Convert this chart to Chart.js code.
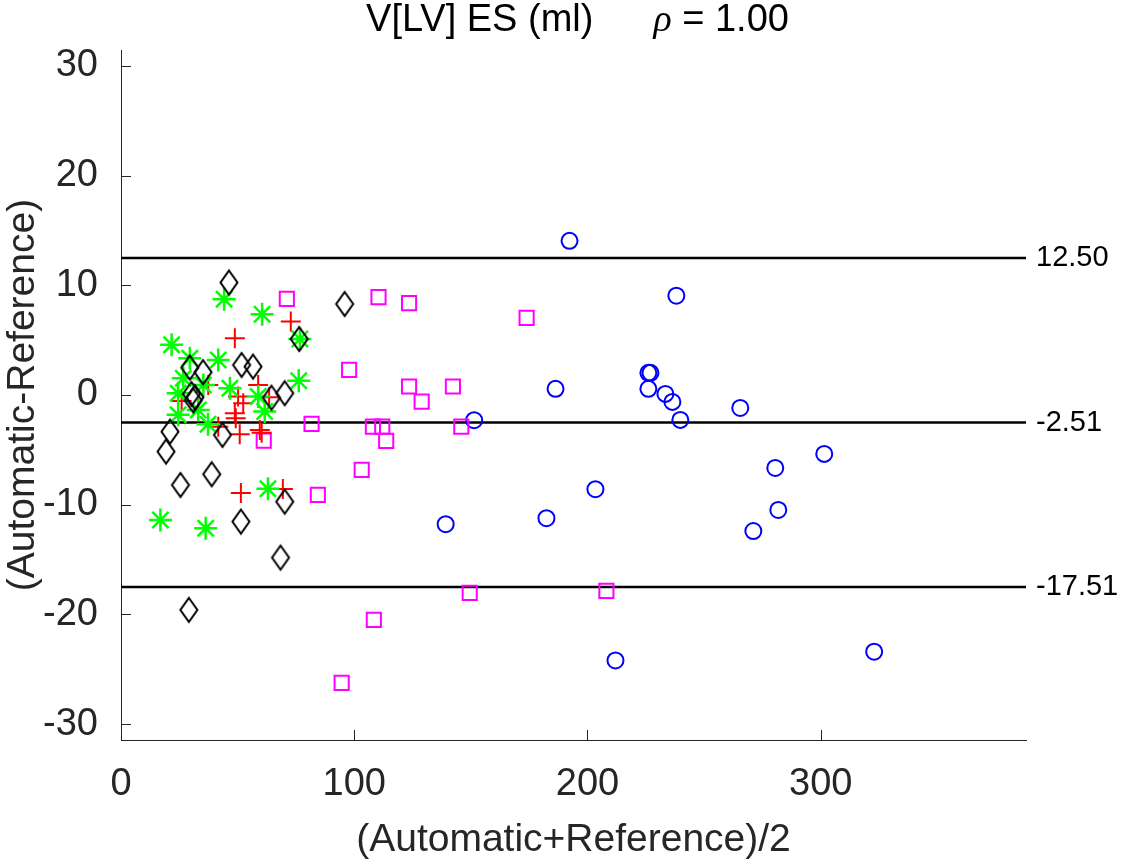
<!DOCTYPE html>
<html><head><meta charset="utf-8">
<script src="https://cdn.jsdelivr.net/npm/chart.js@4.4.1/dist/chart.umd.min.js"></script>
<style>html,body{margin:0;padding:0;background:#fff}#wrap{width:1123px;height:864px}</style>
</head><body><div id="wrap"><canvas id="c" width="1123" height="864"></canvas></div>
<script>
// ---- data ----
const xTicks = [0, 100, 200, 300];
const yTicks = [-30, -20, -10, 0, 10, 20, 30];
const xRange = [0, 388];
const yRange = [-31.45, 31.45];

const blueX = [192.3, 238.1, 186.3, 151.4, 226.1, 227.0, 226.1, 233.4, 236.4, 239.8, 265.5, 280.5, 301.5, 281.8, 271.1, 203.4, 182.4, 139.2, 212.0, 322.9];
const blueY = [14.05, 9.05, 0.56, -2.3, 2.02, 2.02, 0.56, 0.1, -0.63, -2.27, -1.18, -6.65, -5.37, -10.48, -12.4, -8.59, -11.23, -11.78, -24.2, -23.4];

const magentaX = [71.1, 110.4, 123.5, 173.9, 97.8, 123.5, 128.9, 142.3, 81.7, 108.0, 112.0, 113.7, 145.9, 61.2, 103.2, 84.4, 149.5, 208.1, 108.4, 94.6];
const magentaY = [8.76, 8.92, 8.37, 7.03, 2.29, 0.77, -0.6, 0.77, -2.63, -2.88, -2.88, -4.18, -2.88, -4.16, -6.83, -9.11, -18.04, -17.86, -20.5, -26.24];

const redX = [72.8, 48.8, 37.4, 58.8, 26.0, 50.2, 52.4, 63.5, 48.8, 49.2, 59.5, 60.3, 50.9, 41.7, 51.4, 69.4];
const redY = [6.69, 5.18, 0.92, 0.92, -0.55, -0.14, -0.75, -0.2, -1.66, -2.12, -3.2, -3.45, -3.58, -2.9, -8.93, -8.57];

const greenX = [44.2, 60.5, 21.7, 29.5, 41.7, 76.7, 76.2, 26.7, 35.3, 46.7, 24.5, 58.8, 24.5, 33.1, 61.6, 37.3, 63.0, 16.9, 36.3];
const greenY = [8.73, 7.37, 4.57, 3.35, 3.2, 5.11, 1.29, 1.53, 0.92, 0.62, 0.16, -0.14, -1.81, -1.36, -1.51, -2.66, -8.55, -11.39, -12.14];

const blackX = [46.3, 76.4, 95.9, 29.5, 35.2, 51.7, 56.6, 30.2, 31.7, 31.0, 64.5, 70.2, 21.0, 43.5, 19.3, 25.5, 38.9, 70.2, 51.4, 68.4, 29.1];
const blackY = [10.25, 5.11, 8.3, 2.5, 2.08, 2.74, 2.59, 0.1, -0.2, -0.5, -0.24, 0.16, -3.34, -3.64, -5.16, -8.2, -7.22, -9.72, -11.54, -14.82, -19.59];

const limitValues = [12.50, -2.51, -17.51];
const limitLabels = ['12.50', '-2.51', '-17.51'];

const titleMain = 'V[LV] ES (ml)';
const titleRho = 'ρ';
const titleRest = ' = 1.00';
const xTitle = '(Automatic+Reference)/2';
const yTitle = '(Automatic-Reference)';

// ---- helpers ----
const pts = (xs, ys) => xs.map((x, i) => ({x: x, y: ys[i]}));
const FONT = '"Liberation Sans", Arial, Helvetica, sans-serif';
const AX = '#262626';
const FS = 38;
const FT = 39;

function diamondCanvas() {
  const c = document.createElement('canvas');
  c.width = 22; c.height = 30;
  const g = c.getContext('2d');
  g.strokeStyle = '#000'; g.lineWidth = 2;
  g.beginPath();
  g.moveTo(11, 3); g.lineTo(19.5, 15); g.lineTo(11, 27); g.lineTo(2.5, 15); g.closePath();
  g.stroke();
  return c;
}

const limitDatasets = limitValues.map(v => ({
  type: 'line',
  data: [{x: xRange[0], y: v}, {x: xRange[1], y: v}],
  borderColor: '#000', borderWidth: 2.5, pointRadius: 0, fill: false, order: 10
}));

const decor = {
  id: 'decor',
  afterDraw(chart) {
    const ctx = chart.ctx, xs = chart.scales.x, ys = chart.scales.y, a = chart.chartArea;
    ctx.save();
    ctx.strokeStyle = AX; ctx.lineWidth = 1;
    xTicks.forEach(v => {
      const px = Math.round(xs.getPixelForValue(v)) + 0.5;
      ctx.beginPath(); ctx.moveTo(px, a.bottom); ctx.lineTo(px, a.bottom - 10); ctx.stroke();
    });
    yTicks.forEach(v => {
      const py = Math.round(ys.getPixelForValue(v)) + 0.5;
      ctx.beginPath(); ctx.moveTo(a.left, py); ctx.lineTo(a.left + 10, py); ctx.stroke();
    });
    // limit labels
    ctx.fillStyle = '#000';
    ctx.font = '29px ' + FONT;
    ctx.textAlign = 'left'; ctx.textBaseline = 'middle';
    limitValues.forEach((v, i) => ctx.fillText(limitLabels[i], a.right + 10, ys.getPixelForValue(v)));
    // title
    ctx.textBaseline = 'alphabetic';
    ctx.font = FS + 'px ' + FONT;
    const w1 = ctx.measureText(titleMain).width;
    const w3 = ctx.measureText(titleRest).width;
    ctx.font = 'italic ' + FS + 'px "Liberation Serif", serif';
    const w2 = ctx.measureText(titleRho).width;
    const gap = 60;
    const total = w1 + gap + w2 + w3;
    let x0 = (a.left + a.right) / 2 + 4 - total / 2;
    const by = 31;
    ctx.font = FS + 'px ' + FONT;
    ctx.fillText(titleMain, x0, by);
    ctx.font = 'italic ' + FS + 'px "Liberation Serif", serif';
    ctx.fillText(titleRho, x0 + w1 + gap, by);
    ctx.font = FS + 'px ' + FONT;
    ctx.fillText(titleRest, x0 + w1 + gap + w2, by);
    ctx.restore();
  }
};

new Chart(document.getElementById('c'), {
  type: 'scatter',
  data: {
    datasets: [
      ...limitDatasets,
      {data: pts(blueX, blueY), pointStyle: 'circle', pointRadius: 8, pointBorderColor: '#0000FF', pointBackgroundColor: 'rgba(0,0,0,0)', pointBorderWidth: 2, order: 5},
      {data: pts(magentaX, magentaY), pointStyle: 'rect', pointRadius: 10, pointBorderColor: '#FF00FF', pointBackgroundColor: 'rgba(0,0,0,0)', pointBorderWidth: 2, order: 4},
      {data: pts(redX, redY), pointStyle: 'cross', pointRadius: 10, pointBorderColor: '#FF0000', pointBorderWidth: 2, order: 3},
      {data: pts(greenX, greenY), pointStyle: 'star', pointRadius: 11.5, pointBorderColor: '#00FF00', pointBorderWidth: 2.5, order: 2},
      {data: pts(blackX, blackY), pointStyle: diamondCanvas(), order: 1}
    ]
  },
  options: {
    responsive: false,
    animation: false,
    events: [],
    layout: {padding: {left: 0, top: 50, right: 97, bottom: 0}},
    plugins: {legend: {display: false}, title: {display: false}, tooltip: {enabled: false}},
    scales: {
      x: {
        type: 'linear', min: xRange[0], max: xRange[1],
        afterFit: s => { s.height = 124; },
        afterBuildTicks: s => { s.ticks = xTicks.map(v => ({value: v})); },
        grid: {display: false},
        border: {display: true, color: AX, width: 1},
        ticks: {font: {family: FONT, size: FS}, color: AX, padding: 14, maxRotation: 0},
        title: {display: true, text: xTitle, font: {family: FONT, size: FT}, color: AX, padding: {top: 0, bottom: 0}}
      },
      y: {
        type: 'linear', min: yRange[0], max: yRange[1],
        afterFit: s => { s.width = 121; },
        afterBuildTicks: s => { s.ticks = yTicks.map(v => ({value: v})); },
        grid: {display: false},
        border: {display: true, color: AX, width: 1},
        ticks: {font: {family: FONT, size: FS}, color: AX, padding: 15},
        title: {display: true, text: yTitle, font: {family: FONT, size: FT}, color: AX, padding: {top: 0, bottom: 0}}
      }
    }
  },
  plugins: [decor]
});
</script></body></html>
